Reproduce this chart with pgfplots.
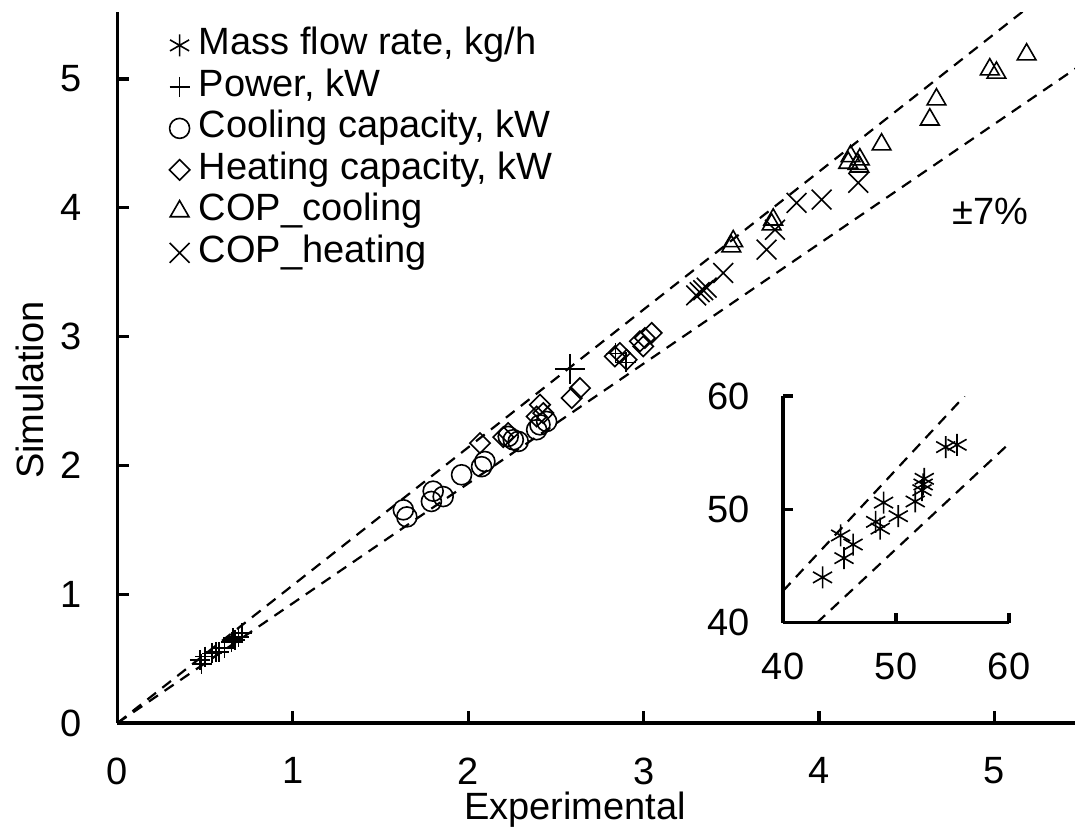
\documentclass[border=0pt]{standalone}
\usepackage{fontspec}
\setmainfont{Liberation Sans}
\usepackage{pgfplots}
\pgfplotsset{compat=1.18}
\newcommand{\fs}{\fontsize{19}{22}\selectfont}
\begin{document}
\begin{tikzpicture}
\fs
\path[use as bounding box] (-58.75pt,-53pt) rectangle (478.75pt,361.5pt);
\begin{axis}[
  at={(0pt,0pt)}, anchor=south west, scale only axis,
  width=478.75pt, height=355.5pt,
  xmin=0, xmax=5.46, ymin=0, ymax=5.52,
  axis lines=left, axis line style={-, line width=1.6pt},
  xtick={0,1,2,3,4,5}, ytick={0,1,2,3,4,5},
  tick align=inside, major tick length=6pt,
  tick style={line width=1.6pt, black},
  /pgf/number format/assume math mode=true,
  tick label style={font=\fs},
  xticklabel style={yshift=-10.8pt},
  yticklabel style={xshift=-11.5pt},
  xlabel={Experimental}, ylabel={Simulation},
  label style={font=\fs},
  xlabel style={at={(axis description cs:0.478,-0.1224)}, anchor=center},
  ylabel style={at={(axis description cs:-0.0914,0.468)}, anchor=center},
  legend style={at={(axis description cs:0.0538,0.9828)}, anchor=north west,
    draw=none, fill=none, inner sep=0pt, row sep=0pt, column sep=3.5pt, font=\fs,
    nodes={inner sep=1pt, text height=14pt, text depth=4.75pt}},
  legend cell align=left,
  every axis plot/.append style={line width=0.8pt, black},
]
\addlegendimage{only marks, mark=asterisk, mark size=5.5pt, line width=0.8pt, black}
\addlegendentry{Mass flow rate, kg/h}
\addplot[only marks, mark=+, mark size=5pt] coordinates {
(0.47,0.49) (0.48,0.46) (0.50,0.515) (0.54,0.54) (0.56,0.55) (0.58,0.55)
(0.61,0.58) (0.65,0.63) (0.67,0.645) (0.69,0.67) (0.71,0.70) (0.66,0.66)
(2.84,2.87) (2.90,2.80)
};
\addlegendentry{Power, kW}
\addplot[only marks, mark=o, mark size=5pt] coordinates {
(1.63,1.655) (1.65,1.60) (1.79,1.72) (1.80,1.80) (1.857,1.758) (1.962,1.927)
(2.076,1.99) (2.095,2.03) (2.228,2.225) (2.257,2.199) (2.285,2.186)
(2.39,2.277) (2.409,2.315) (2.447,2.341)
};
\addlegendentry{Cooling capacity, kW}
\addplot[only marks, mark=square, mark size=3.6pt, mark options={rotate=45}] coordinates {
(2.067,2.173) (2.228,2.251) (2.20,2.22) (2.39,2.38) (2.409,2.471) (2.428,2.406)
(2.59,2.523) (2.637,2.60) (2.836,2.846) (2.865,2.872) (2.903,2.82)
(2.979,2.963) (2.998,2.924) (3.007,2.989) (3.046,3.028)
};
\addlegendentry{Heating capacity, kW}
\addplot[only marks, mark=triangle, mark size=5.4pt] coordinates {
(3.511,3.74) (3.50,3.70) (3.739,3.908) (3.73,3.87) (4.167,4.349) (4.18,4.40)
(4.233,4.375) (4.23,4.32) (4.22,4.34) (4.357,4.491) (4.632,4.685) (4.67,4.841)
(4.974,5.074) (5.012,5.048) (5.184,5.19)
};
\addlegendentry{COP\_cooling}
\addplot[only marks, mark=x, mark size=7pt] coordinates {
(3.30,3.32) (3.32,3.345) (3.34,3.36) (3.36,3.38) (3.454,3.494) (3.701,3.675)
(3.749,3.83) (3.872,4.038) (4.015,4.064) (4.224,4.194)
};
\addlegendentry{COP\_heating}
\addplot[forget plot, only marks, mark=+, mark size=7.5pt] coordinates {(2.58,2.75)};
\addplot[forget plot, line width=1.1pt, dash pattern=on 5.5pt off 4pt] coordinates {(0,0) (5.6,5.992)};
\addplot[forget plot, line width=1.1pt, dash pattern=on 5.5pt off 4pt] coordinates {(0,0) (5.6,5.208)};
\node[font=\fs] at (axis cs:4.98,3.97) {±7\%};
\end{axis}
\begin{axis}[
  at={(332.75pt,50.15pt)}, anchor=south west, scale only axis,
  width=113pt, height=113.3pt,
  xmin=40, xmax=60, ymin=40, ymax=60,
  axis lines=left, axis line style={-, line width=1.6pt},
  xtick={40,50,60}, ytick={40,50,60},
  tick align=inside, major tick length=5pt,
  tick style={line width=1.6pt, black},
  /pgf/number format/assume math mode=true,
  tick label style={font=\fs},
  xticklabel style={yshift=-8.8pt},
  yticklabel style={xshift=-10.3pt},
  every axis plot/.append style={line width=0.8pt, black},
]
\addplot[only marks, mark=asterisk, mark size=5.5pt] coordinates {
(43.5,44.0) (45.1,47.7) (45.4,45.7) (46.2,46.9) (48.9,50.6) (48.2,48.9)
(48.6,48.3) (50.2,49.4) (51.7,50.7) (52.5,52.7) (52.4,52.2) (52.3,51.7)
(54.4,55.5) (55.4,55.7)
};
\addplot[line width=1.1pt, dash pattern=on 5.5pt off 4pt] coordinates {(40,42.8) (56.07,60)};
\addplot[line width=1.1pt, dash pattern=on 5.5pt off 4pt] coordinates {(43.01,40) (60,55.8)};
\end{axis}
\end{tikzpicture}
\end{document}
